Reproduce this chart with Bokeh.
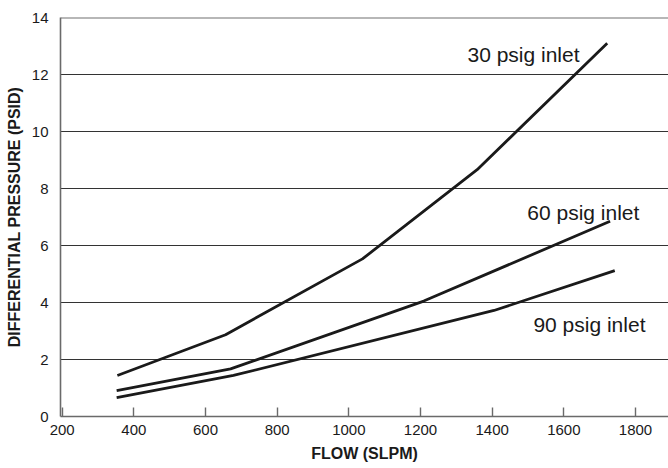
from bokeh.plotting import figure
from bokeh.models import Range1d, FixedTicker, Span, Label
from bokeh.embed import file_html
from bokeh.resources import INLINE

# Data
flow_30 = [354, 656, 1038, 1358, 1721]
dp_30 = [1.44, 2.87, 5.53, 8.66, 13.1]
flow_60 = [352, 670, 1209, 1729]
dp_60 = [0.91, 1.67, 4.05, 6.85]
flow_90 = [352, 678, 1405, 1742]
dp_90 = [0.66, 1.44, 3.72, 5.12]

x_ticks = [200, 400, 600, 800, 1000, 1200, 1400, 1600, 1800]
y_ticks = [0, 2, 4, 6, 8, 10, 12, 14]
series_names = ["30 psig inlet", "60 psig inlet", "90 psig inlet"]

FONT = "Liberation Sans"
INK = "#1a1a1a"

p = figure(width=668, height=468,
           x_range=Range1d(195.3, 1892), y_range=Range1d(0, 14),
           output_backend="svg", toolbar_location=None,
           min_border_left=60, min_border_right=0,
           min_border_top=17, min_border_bottom=52)
p.outline_line_color = None
p.background_fill_color = "white"
p.border_fill_color = "white"

p.xgrid.visible = False
p.ygrid.ticker = FixedTicker(ticks=[2, 4, 6, 8, 10, 12])
p.ygrid.grid_line_color = "#333333"
p.ygrid.grid_line_width = 1.1

p.add_layout(Span(location=14, dimension="width", line_color="#707070", line_width=2.2))

p.xaxis.ticker = FixedTicker(ticks=x_ticks)
p.yaxis.ticker = FixedTicker(ticks=y_ticks)
for ax in (p.xaxis, p.yaxis):
    ax.axis_line_color = "#6a6a6a"
    ax.axis_line_width = 1.6
    ax.major_label_text_font = FONT
    ax.major_label_text_font_size = "15px"
    ax.major_label_text_color = INK
    ax.minor_tick_line_color = None
    ax.axis_label_text_font = FONT
    ax.axis_label_text_font_size = "16px"
    ax.axis_label_text_font_style = "bold"
    ax.axis_label_text_color = INK
p.xaxis.major_tick_in = 9
p.xaxis.major_tick_out = 0
p.xaxis.major_tick_line_color = "#6a6a6a"
p.xaxis.major_tick_line_width = 1.4
p.xaxis.major_label_standoff = 8
p.xaxis.axis_label = "FLOW (SLPM)"
p.xaxis.axis_label_standoff = 7
p.yaxis.major_tick_in = 0
p.yaxis.major_tick_out = 0
p.yaxis.major_label_standoff = 12
p.yaxis.axis_label = "DIFFERENTIAL PRESSURE (PSID)"
p.yaxis.axis_label_standoff = 6

for xs, ys in ((flow_30, dp_30), (flow_60, dp_60), (flow_90, dp_90)):
    p.line(xs, ys, line_color=INK, line_width=2.8, line_join="round")

label_pos = [(1331, 12.7), (1498, 7.16), (1515, 3.23)]
for name, (lx, ly) in zip(series_names, label_pos):
    p.add_layout(Label(x=lx, y=ly, text=name, text_font=FONT, text_font_size="21px",
                       text_color=INK, text_align="left", text_baseline="alphabetic"))

open("out.html", "w").write(file_html(p, INLINE))
